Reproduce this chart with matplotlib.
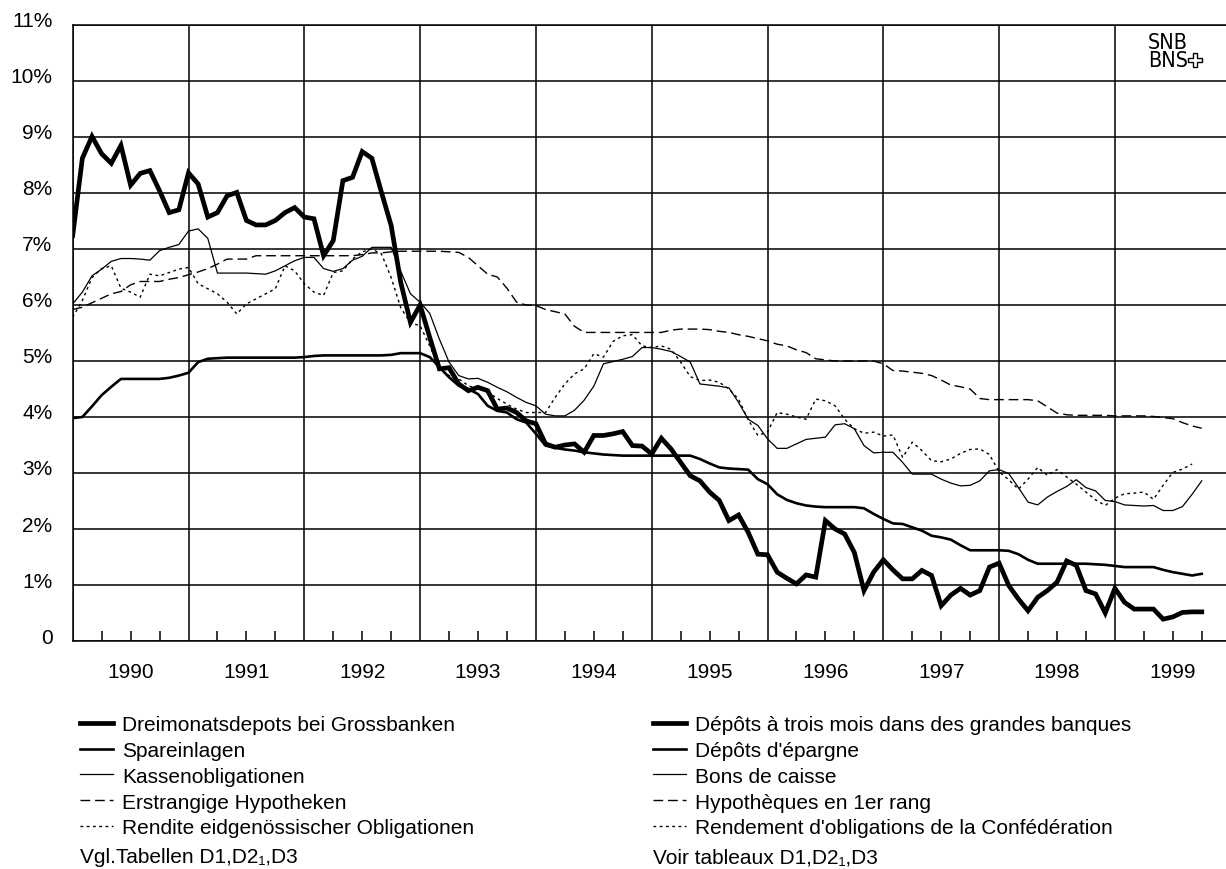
import matplotlib
matplotlib.use("Agg")
import matplotlib.pyplot as plt
import numpy as np
from matplotlib.ticker import FixedLocator, FuncFormatter
from matplotlib.transforms import ScaledTranslation
from matplotlib.patches import Polygon
from matplotlib import font_manager

plt.rcParams['font.family'] = ['Liberation Sans', 'DejaVu Sans']

# Monthly interest rates in percent, starting January 1990
start_year = 1990

dreimonatsdepots = [
    7.24, 8.62, 9.01, 8.70, 8.53, 8.85, 8.14, 8.35, 8.40, 8.04, 7.65, 7.70,
    8.36, 8.16, 7.57, 7.65, 7.95, 8.01, 7.51, 7.43, 7.43, 7.51, 7.65, 7.74,
    7.57, 7.54, 6.88, 7.15, 8.22, 8.28, 8.74, 8.62, 8.01, 7.42, 6.40, 5.69,
    6.00, 5.42, 4.86, 4.88, 4.59, 4.47, 4.53, 4.47, 4.14, 4.16, 4.08, 3.93,
    3.88, 3.52, 3.46, 3.50, 3.52, 3.37, 3.67, 3.67, 3.70, 3.74, 3.49, 3.48,
    3.34, 3.62, 3.43, 3.19, 2.95, 2.86, 2.66, 2.51, 2.15, 2.25, 1.94, 1.55,
    1.54, 1.23, 1.12, 1.02, 1.18, 1.14, 2.15, 2.00, 1.91, 1.58, 0.90, 1.23,
    1.45, 1.27, 1.11, 1.11, 1.26, 1.17, 0.63, 0.82, 0.94, 0.82, 0.90, 1.32,
    1.39, 0.99, 0.75, 0.54, 0.78, 0.90, 1.05, 1.43, 1.35, 0.90, 0.84, 0.50,
    0.94, 0.69, 0.57, 0.57, 0.57, 0.39, 0.43, 0.51, 0.52, 0.52,
]

spareinlagen = [
    3.98, 4.00, 4.19, 4.39, 4.54, 4.68, 4.68, 4.68, 4.68, 4.68, 4.70, 4.74,
    4.79, 4.98, 5.04, 5.05, 5.06, 5.06, 5.06, 5.06, 5.06, 5.06, 5.06, 5.06,
    5.07, 5.09, 5.10, 5.10, 5.10, 5.10, 5.10, 5.10, 5.10, 5.11, 5.14, 5.14,
    5.14, 5.07, 4.89, 4.71, 4.56, 4.50, 4.41, 4.20, 4.11, 4.08, 3.96, 3.90,
    3.70, 3.49, 3.45, 3.42, 3.40, 3.37, 3.35, 3.33, 3.32, 3.31, 3.31, 3.31,
    3.31, 3.31, 3.31, 3.31, 3.31, 3.25, 3.17, 3.10, 3.08, 3.07, 3.06, 2.89,
    2.80, 2.62, 2.52, 2.46, 2.42, 2.40, 2.39, 2.39, 2.39, 2.39, 2.37, 2.27,
    2.18, 2.10, 2.09, 2.03, 1.97, 1.88, 1.85, 1.81, 1.71, 1.62, 1.62, 1.62,
    1.62, 1.61, 1.55, 1.45, 1.38, 1.38, 1.38, 1.38, 1.38, 1.38, 1.37, 1.36,
    1.34, 1.32, 1.32, 1.32, 1.32, 1.27, 1.23, 1.20, 1.17, 1.20,
]

kassenobligationen = [
    6.02, 6.23, 6.52, 6.64, 6.78, 6.83, 6.83, 6.82, 6.80, 6.97, 7.03, 7.08,
    7.32, 7.36, 7.19, 6.57, 6.57, 6.57, 6.57, 6.56, 6.55, 6.61, 6.70, 6.79,
    6.85, 6.85, 6.65, 6.60, 6.65, 6.80, 6.87, 7.03, 7.03, 7.03, 6.60, 6.20,
    6.05, 5.85, 5.39, 4.98, 4.74, 4.68, 4.69, 4.62, 4.53, 4.45, 4.35, 4.26,
    4.20, 4.05, 4.02, 4.02, 4.12, 4.30, 4.55, 4.95, 4.99, 5.03, 5.08, 5.24,
    5.24, 5.21, 5.17, 5.08, 4.98, 4.59, 4.57, 4.55, 4.52, 4.26, 3.96, 3.85,
    3.61, 3.44, 3.44, 3.52, 3.60, 3.62, 3.64, 3.86, 3.88, 3.79, 3.49, 3.36,
    3.37, 3.37, 3.19, 2.98, 2.98, 2.98, 2.89, 2.82, 2.77, 2.78, 2.86, 3.04,
    3.06, 2.99, 2.74, 2.48, 2.43, 2.57, 2.67, 2.76, 2.88, 2.74, 2.68, 2.51,
    2.49, 2.43, 2.42, 2.41, 2.42, 2.33, 2.33, 2.40, 2.62, 2.86,
]

hypotheken = [
    5.92, 5.96, 6.04, 6.12, 6.20, 6.24, 6.36, 6.42, 6.42, 6.42, 6.46, 6.49,
    6.54, 6.59, 6.65, 6.73, 6.82, 6.82, 6.82, 6.88, 6.88, 6.88, 6.88, 6.88,
    6.88, 6.88, 6.88, 6.88, 6.88, 6.88, 6.90, 6.93, 6.93, 6.95, 6.96, 6.96,
    6.96, 6.96, 6.96, 6.95, 6.94, 6.85, 6.70, 6.55, 6.50, 6.30, 6.05, 6.00,
    5.99, 5.92, 5.88, 5.84, 5.62, 5.51, 5.51, 5.51, 5.51, 5.51, 5.51, 5.51,
    5.51, 5.51, 5.55, 5.57, 5.57, 5.57, 5.56, 5.53, 5.51, 5.47, 5.44, 5.40,
    5.36, 5.30, 5.27, 5.20, 5.15, 5.04, 5.02, 5.00, 5.00, 5.00, 5.00, 5.00,
    4.95, 4.83, 4.82, 4.80, 4.78, 4.74, 4.66, 4.57, 4.54, 4.50, 4.33, 4.31,
    4.31, 4.31, 4.31, 4.31, 4.29, 4.18, 4.07, 4.04, 4.03, 4.03, 4.03, 4.03,
    4.02, 4.02, 4.02, 4.02, 4.01, 3.99, 3.97, 3.90, 3.84, 3.80,
]

rendite = [
    5.78, 6.08, 6.49, 6.65, 6.70, 6.30, 6.23, 6.14, 6.55, 6.52, 6.58, 6.64,
    6.67, 6.38, 6.29, 6.20, 6.05, 5.84, 6.02, 6.11, 6.20, 6.29, 6.70, 6.61,
    6.38, 6.23, 6.17, 6.58, 6.61, 6.82, 6.95, 7.00, 6.91, 6.49, 5.95, 5.68,
    5.63, 5.27, 4.86, 4.74, 4.68, 4.56, 4.50, 4.45, 4.33, 4.23, 4.14, 4.08,
    4.08, 4.08, 4.35, 4.59, 4.77, 4.86, 5.13, 5.07, 5.35, 5.45, 5.47, 5.27,
    5.24, 5.27, 5.21, 4.98, 4.72, 4.65, 4.66, 4.62, 4.50, 4.32, 3.95, 3.67,
    3.73, 4.08, 4.05, 4.00, 3.96, 4.32, 4.29, 4.20, 3.96, 3.79, 3.71, 3.73,
    3.66, 3.68, 3.28, 3.55, 3.40, 3.22, 3.20, 3.25, 3.35, 3.42, 3.43, 3.33,
    3.02, 2.88, 2.71, 2.89, 3.10, 2.96, 3.06, 2.93, 2.80, 2.66, 2.52, 2.42,
    2.55, 2.63, 2.64, 2.66, 2.53, 2.78, 3.01, 3.07, 3.16,
]

labels_de = [
    "Dreimonatsdepots bei Grossbanken",
    "Spareinlagen",
    "Kassenobligationen",
    "Erstrangige Hypotheken",
    "Rendite eidgenössischer Obligationen",
]
labels_fr = [
    "Dépôts à trois mois dans des grandes banques",
    "Dépôts d'épargne",
    "Bons de caisse",
    "Hypothèques en 1er rang",
    "Rendement d'obligations de la Confédération",
]
year_labels = [str(y) for y in range(1990, 2000)]
y_ticks = list(range(0, 12))


def months_axis(values):
    return start_year + np.arange(len(values)) / 12.0


W, H = 1226, 870
fig = plt.figure(figsize=(W / 100, H / 100), dpi=100)
left_px, bottom_px, top_px = 72.7, 642, 26
ax = fig.add_axes([left_px / W, 1 - bottom_px / H,
                   (W - left_px) / W, (bottom_px - top_px) / H])

ax.set_ylim(0, 11)
ax.set_xlim(1990, 1990 + (W - left_px) / 115.8)

l1, = ax.plot(months_axis(dreimonatsdepots), dreimonatsdepots,
              color="black", lw=3.4, solid_joinstyle="miter", zorder=5)
l2, = ax.plot(months_axis(spareinlagen), spareinlagen,
              color="black", lw=1.9, zorder=4)
l3, = ax.plot(months_axis(kassenobligationen), kassenobligationen,
              color="black", lw=0.9, zorder=4)
l4, = ax.plot(months_axis(hypotheken), hypotheken,
              color="black", lw=1.0, dashes=(7, 3.5), zorder=4)
l5, = ax.plot(months_axis(rendite), rendite,
              color="black", lw=1.0, dashes=(2, 2.5), zorder=4)

# Grid: horizontal every percent, vertical at each year boundary
ax.yaxis.set_major_locator(FixedLocator(y_ticks))
ax.yaxis.set_major_formatter(FuncFormatter(lambda v, p: "0" if v == 0 else f"{int(v)}%"))
ax.tick_params(axis="y", length=0, pad=14.5, labelsize=15)

years = np.arange(1990, 2000)
ax.xaxis.set_major_locator(FixedLocator(years))
ax.xaxis.set_major_formatter(FuncFormatter(lambda v, p: ""))
quarters = [y + q for y in years for q in (0.25, 0.5, 0.75)]
ax.xaxis.set_minor_locator(FixedLocator(quarters))


def quarter_label(v, p):
    frac = round((v - np.floor(v)) * 4)
    return year_labels[int(np.floor(v)) - 1990] if frac == 2 else ""


ax.xaxis.set_minor_formatter(FuncFormatter(quarter_label))
ax.tick_params(axis="x", which="major", length=0)
ax.tick_params(axis="x", which="minor", direction="in", length=7.5,
               width=1.1, pad=15, labelsize=15)

ax.grid(True, which="major", color="black", lw=1.1)
ax.set_axisbelow(True)
for side in ("left", "top", "bottom"):
    ax.spines[side].set_linewidth(1.1)
ax.spines["right"].set_visible(False)

shift = ScaledTranslation(0, 6 / 100, fig.dpi_scale_trans)
for lab in ax.get_yticklabels():
    lab.set_transform(lab.get_transform() + shift)

# Legends in German and French
handles = [l1, l2, l3, l4, l5]
leg_kw = dict(frameon=False, fontsize=15, handlelength=1.6, handletextpad=0.42,
              labelspacing=0.33, borderpad=0, borderaxespad=0, loc="upper left")
leg_top = 1 - 716 / H
fig.legend(handles, labels_de, bbox_to_anchor=(80 / W, leg_top), **leg_kw)
fig.legend(handles, labels_fr, bbox_to_anchor=(653 / W, leg_top), **leg_kw)

fig.text(80 / W, 1 - 858 / H, "Vgl.Tabellen D1,D2\u2081,D3", fontsize=15, va="center")
fig.text(653 / W, 1 - 858 / H, "Voir tableaux D1,D2\u2081,D3", fontsize=15, va="center")

# Bank logo in the upper right corner, set in a condensed face
try:
    font_manager.findfont(font_manager.FontProperties(family="Liberation Sans Narrow"),
                          fallback_to_default=False)
    logo_kw = dict(family="Liberation Sans Narrow")
except ValueError:
    logo_kw = dict(family="DejaVu Sans", stretch="condensed")
fig.text(1148 / W, 1 - 43 / H, "SNB", fontsize=15.5, va="center", **logo_kw)
fig.text(1148 / W, 1 - 61 / H, "BNS", fontsize=15.5, va="center", **logo_kw)
cx, cy, a, b = 1195, 61, 7, 2.4
cross = [(-b, -a), (b, -a), (b, -b), (a, -b), (a, b), (b, b), (b, a),
         (-b, a), (-b, b), (-a, b), (-a, -b), (-b, -b)]
fig.patches.append(Polygon([((cx + dx) / W, 1 - (cy + dy) / H) for dx, dy in cross],
                           closed=True, facecolor="white", edgecolor="black",
                           lw=1.0, transform=fig.transFigure, figure=fig))

fig.savefig("out.png", dpi=100)
